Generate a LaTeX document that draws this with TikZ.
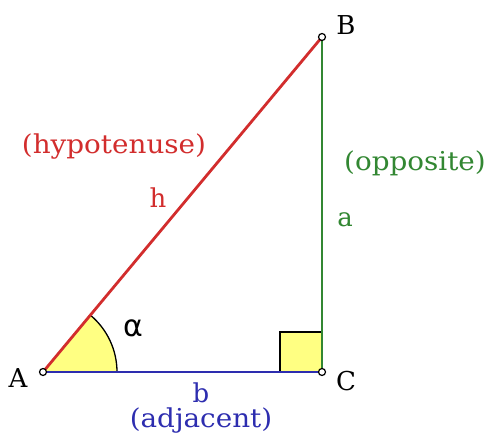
\documentclass[tikz,border=0pt]{standalone}
\usepackage{fontspec}
\setmainfont{DejaVu Serif}
\newfontfamily\greekfont{DejaVu Sans}
\usetikzlibrary{calc}

\definecolor{hypred}{RGB}{210,45,45}
\definecolor{oppgreen}{RGB}{50,135,50}
\definecolor{adjblue}{RGB}{45,45,175}
\definecolor{angyellow}{RGB}{255,255,130}

\tikzset{
  vertex/.style={circle, draw, fill=white, line width=1.2pt, inner sep=0pt, minimum size=7pt},
  side/.style={line width=2.8pt},
  lbl/.style={font=\fontsize{26}{26}\selectfont, inner sep=0pt}
}

\begin{document}
\begin{tikzpicture}[x=1pt, y=1pt]
  \useasboundingbox (0,0) rectangle (487,442);
  \coordinate (A) at (43,70);
  \coordinate (B) at (322,405);
  \coordinate (C) at (322,70);
  % angle and right angle
  \fill[angyellow] (A) -- ++(74,0) arc[start angle=0, end angle=50.2, radius=74] -- cycle;
  \draw[line width=1.3pt] ($(A)+(74,0)$) arc[start angle=0, end angle=50.2, radius=74];
  \fill[angyellow] (280,70) rectangle (322,110);
  \draw[line width=1.3pt] (280,70) -- (280,110) -- (322,110);
  % sides
  \draw[side, hypred] (A) -- (B);
  \draw[side, oppgreen] (C) -- (B);
  \draw[side, adjblue] (A) -- (C);
  \node[vertex] (a) at (A) {};
  \node[vertex] (b) at (B) {};
  \node[vertex] (c) at (C) {};
  % labels
  \node[lbl] (la) at (18,64) {A};
  \node[lbl] (lb) at (346,417) {B};
  \node[lbl] (lc) at (346,61) {C};
  \node[lbl, font=\greekfont\fontsize{30}{30}\selectfont] (alpha) at (133,114) {α};
  \node[lbl, hypred, xscale=1.07] (hyp) at (114,295) {(hypotenuse)};
  \node[lbl, hypred] (h) at (158,244) {h};
  \node[lbl, oppgreen, xscale=1.07] (opp) at (415,279) {(opposite)};
  \node[lbl, oppgreen] (sa) at (345,222) {a};
  \node[lbl, adjblue] (sb) at (201,49) {b};
  \node[lbl, adjblue, xscale=1.07] (adj) at (201,21) {(adjacent)};
\end{tikzpicture}
\end{document}
